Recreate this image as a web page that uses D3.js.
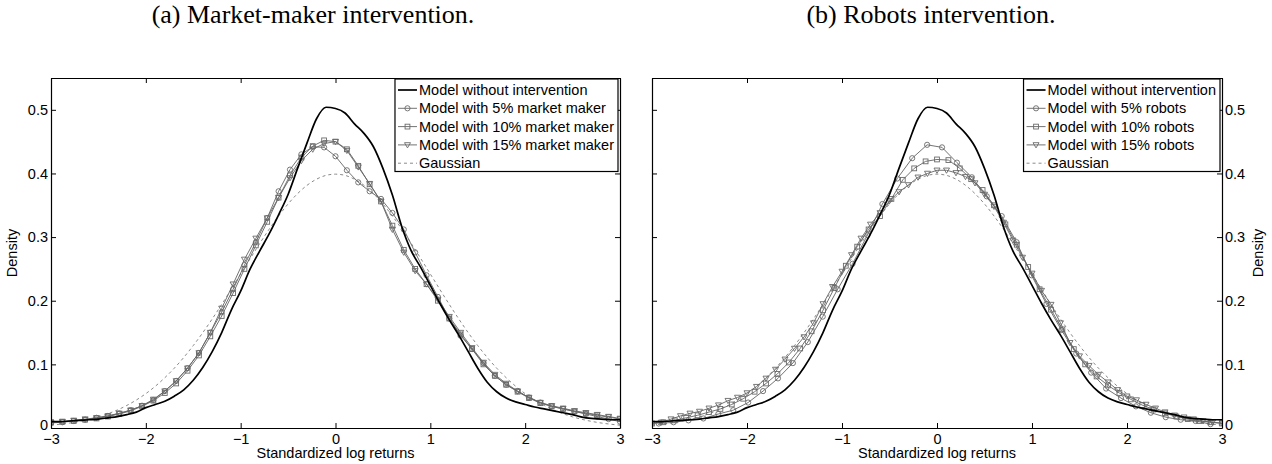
<!DOCTYPE html>
<html><head><meta charset="utf-8">
<script src="https://cdn.jsdelivr.net/npm/d3@7"></script>
<style>body{margin:0;background:#fff} svg{display:block}</style>
</head><body>
<svg id="c" width="1272" height="464"></svg>
<script>
// ---------- data ----------
const xTicks = [-3,-2,-1,0,1,2,3];
const xTickLabels = ["−3","−2","−1","0","1","2","3"];
const yTicks = [0,0.1,0.2,0.3,0.4,0.5];
const yTickLabels = ["0","0.1","0.2","0.3","0.4","0.5"];

// sampling grids (x positions of the density estimates)
const grid10 = d3.range(61).map(i => +(-3 + i*0.1).toFixed(3));
const grid12 = d3.range(51).map(i => +(-3 + i*0.12).toFixed(3));
const grid157 = d3.range(38).map(i => +(-2.93 + i*0.157).toFixed(3));

const noIntervention = [0.010,0.010,0.011,0.012,0.013,0.014,0.016,0.018,0.021,0.025,
  0.032,0.037,0.042,0.050,0.060,0.075,0.095,0.120,0.150,0.185,
  0.215,0.250,0.278,0.305,0.335,0.367,0.408,0.448,0.486,0.504,
  0.502,0.495,0.478,0.463,0.442,0.408,0.366,0.316,0.278,0.252,
  0.224,0.196,0.170,0.146,0.120,0.094,0.072,0.057,0.047,0.041,
  0.037,0.033,0.030,0.027,0.024,0.021,0.017,0.015,0.014,0.013,0.013];

const gaussian = [0.0044,0.0060,0.0079,0.0104,0.0136,0.0175,0.0224,0.0283,0.0355,0.0440,
  0.0540,0.0656,0.0790,0.0940,0.1109,0.1295,0.1497,0.1714,0.1942,0.2179,
  0.2420,0.2661,0.2897,0.3123,0.3332,0.3521,0.3683,0.3814,0.3910,0.3970,
  0.3989,0.3970,0.3910,0.3814,0.3683,0.3521,0.3332,0.3123,0.2897,0.2661,
  0.2420,0.2179,0.1942,0.1714,0.1497,0.1295,0.1109,0.0940,0.0790,0.0656,
  0.0540,0.0440,0.0355,0.0283,0.0224,0.0175,0.0136,0.0104,0.0079,0.0060,0.0044];

// (a) market maker, grid12
const mm5 = [0.008,0.009,0.011,0.013,0.016,0.019,0.023,0.028,0.035,0.044,
  0.058,0.074,0.094,0.118,0.150,0.182,0.218,0.256,0.292,0.330,
  0.372,0.406,0.430,0.442,0.441,0.427,0.405,0.386,0.372,0.360,
  0.338,0.312,0.276,0.240,0.206,0.172,0.145,0.124,0.102,0.082,
  0.068,0.058,0.048,0.040,0.034,0.030,0.026,0.022,0.018,0.014,0.010];
const mm10 = [0.009,0.010,0.011,0.013,0.015,0.018,0.022,0.027,0.034,0.043,
  0.055,0.070,0.090,0.114,0.144,0.176,0.212,0.250,0.287,0.324,
  0.362,0.397,0.425,0.443,0.452,0.450,0.438,0.412,0.383,0.356,
  0.318,0.280,0.250,0.226,0.200,0.172,0.147,0.124,0.100,0.082,
  0.068,0.057,0.047,0.039,0.034,0.030,0.026,0.023,0.020,0.017,0.014];
const mm15 = [0.009,0.010,0.012,0.014,0.016,0.019,0.023,0.028,0.035,0.045,
  0.058,0.074,0.094,0.118,0.150,0.188,0.226,0.265,0.298,0.330,
  0.362,0.393,0.420,0.438,0.447,0.450,0.436,0.410,0.384,0.356,
  0.312,0.276,0.247,0.226,0.202,0.175,0.150,0.126,0.103,0.084,
  0.070,0.058,0.048,0.040,0.035,0.031,0.027,0.024,0.021,0.018,0.015];

// (b) robots
const rb5 = [0.007,0.009,0.012,0.015,0.022,0.028,0.040,0.058,0.078,0.102,
  0.135,0.175,0.218,0.258,0.303,0.352,0.392,0.424,0.445,0.441,
  0.417,0.394,0.364,0.333,0.292,0.240,0.195,0.154,0.117,0.087,
  0.062,0.047,0.034,0.024,0.017,0.013,0.011,0.006];
const rb10 = [0.007,0.009,0.012,0.016,0.020,0.025,0.030,0.037,0.046,0.057,
  0.070,0.085,0.103,0.125,0.152,0.185,0.220,0.255,0.285,0.312,
  0.333,0.360,0.390,0.408,0.419,0.422,0.421,0.408,0.391,0.374,
  0.350,0.320,0.288,0.253,0.218,0.186,0.155,0.124,0.100,0.081,
  0.067,0.055,0.045,0.036,0.029,0.023,0.018,0.014,0.011,0.009,0.007];
const rb15 = [0.007,0.009,0.014,0.019,0.023,0.026,0.031,0.036,0.043,0.048,
  0.055,0.065,0.078,0.092,0.108,0.125,0.143,0.165,0.195,0.222,
  0.246,0.272,0.298,0.320,0.338,0.357,0.371,0.382,0.394,0.400,
  0.405,0.405,0.401,0.395,0.385,0.367,0.348,0.323,0.295,0.268,
  0.243,0.216,0.194,0.165,0.134,0.113,0.098,0.084,0.072,0.060,
  0.050,0.044,0.037,0.031,0.025,0.020,0.017,0.014,0.011,0.009,0.008];

const titles = ["(a) Market-maker intervention.", "(b) Robots intervention."];
const legendA = ["Model without intervention","Model with 5% market maker","Model with 10% market maker","Model with 15% market maker","Gaussian"];
const legendB = ["Model without intervention","Model with 5% robots","Model with 10% robots","Model with 15% robots","Gaussian"];
const xLabel = "Standardized log returns";
const yLabel = "Density";

// ---------- drawing ----------
const svg = d3.select("#c");
const SANS = "'Liberation Sans', Arial, Helvetica, sans-serif";
const SERIF = "'Liberation Serif', 'Times New Roman', serif";
const FS = 14.5;

const panels = [
  {x0:51, x1:620, side:"left", title:titles[0], titleX:313, legend:legendA,
   series:[{g:grid12,v:mm5,m:"circle"},{g:grid12,v:mm10,m:"square"},{g:grid12,v:mm15,m:"tri"}]},
  {x0:652, x1:1222, side:"right", title:titles[1], titleX:931, legend:legendB,
   series:[{g:grid157,v:rb5,m:"circle"},{g:grid12,v:rb10,m:"square"},{g:grid10,v:rb15,m:"tri"}]}
];
const yTop = 78, yBot = 428;

function marker(sel, type, color) {
  if (type === "circle") {
    sel.append("circle").attr("r", 2.6).attr("fill","none").attr("stroke",color).attr("stroke-width",0.9);
  } else if (type === "square") {
    sel.append("rect").attr("x",-2.4).attr("y",-2.4).attr("width",4.8).attr("height",4.8)
      .attr("fill","none").attr("stroke",color).attr("stroke-width",0.9);
  } else {
    sel.append("path").attr("d","M-3,-2.2L3,-2.2L0,3Z").attr("fill","none").attr("stroke",color).attr("stroke-width",0.9);
  }
}

const GRAY_LINE = "#636363", GRAY_MK = "#6a6a6a";

panels.forEach((p, pi) => {
  const x = d3.scaleLinear().domain([-3,3]).range([p.x0, p.x1]);
  const y = d3.scaleLinear().domain([0,0.55]).range([yBot, yTop]);
  const g = svg.append("g");
  const clipId = "clip"+pi;
  svg.append("clipPath").attr("id", clipId).append("rect")
    .attr("x", p.x0).attr("y", yTop).attr("width", p.x1-p.x0).attr("height", yBot-yTop);
  const plot = g.append("g").attr("clip-path", `url(#${clipId})`);

  const line = d3.line().x(d=>x(d[0])).y(d=>y(d[1]));
  const lineS = d3.line().x(d=>x(d[0])).y(d=>y(d[1])).curve(d3.curveMonotoneX);

  // gaussian
  plot.append("path").datum(grid10.map((gx,i)=>[gx,gaussian[i]])).attr("d", lineS)
    .attr("fill","none").attr("stroke","#8a8a8a").attr("stroke-width",1).attr("stroke-dasharray","3,3");

  // marker series
  p.series.forEach(s => {
    const pts = s.g.map((gx,i)=>[gx, s.v[i]]);
    plot.append("path").datum(pts).attr("d", line)
      .attr("fill","none").attr("stroke",GRAY_LINE).attr("stroke-width",0.9);
    plot.selectAll(null).data(pts).enter().append("g")
      .attr("transform", d=>`translate(${x(d[0])},${y(d[1])})`)
      .each(function(){ marker(d3.select(this), s.m, GRAY_MK); });
  });

  // no intervention
  plot.append("path").datum(grid10.map((gx,i)=>[gx,noIntervention[i]])).attr("d", lineS)
    .attr("fill","none").attr("stroke","#000").attr("stroke-width",1.7);

  // axes (box with inward ticks)
  const axB = d3.axisBottom(x).tickValues(xTicks).tickFormat((d,i)=>xTickLabels[i]).tickSizeInner(-5).tickSizeOuter(0).tickPadding(6);
  const axT = d3.axisTop(x).tickValues(xTicks).tickFormat("").tickSizeInner(-5).tickSizeOuter(0);
  const axL = d3.axisLeft(y).tickValues(yTicks).tickFormat((d,i)=>yTickLabels[i]).tickSizeInner(-5).tickSizeOuter(0).tickPadding(3);
  const axR = d3.axisRight(y).tickValues(yTicks).tickFormat((d,i)=>yTickLabels[i]).tickSizeInner(-5).tickSizeOuter(0).tickPadding(3);

  const gB = g.append("g").attr("transform",`translate(0,${yBot})`).call(axB);
  const gT = g.append("g").attr("transform",`translate(0,${yTop})`).call(axT);
  const gL = g.append("g").attr("transform",`translate(${p.x0},0)`).call(axL);
  const gR = g.append("g").attr("transform",`translate(${p.x1},0)`).call(axR);
  if (p.side === "left") gR.selectAll("text").remove(); else gL.selectAll("text").remove();
  [gB,gT,gL,gR].forEach(a => {
    a.selectAll("path.domain").attr("stroke","#000").attr("stroke-width",1.2);
    a.selectAll(".tick line").attr("stroke","#000").attr("stroke-width",1);
    a.selectAll("text").attr("font-family",SANS).attr("font-size",FS).attr("fill","#000");
  });
  // lift the "0" y-label slightly so it sits above the x-label, as in the original
  [gL,gR].forEach(a => a.selectAll(".tick").filter(d => d === 0).select("text").attr("dy","0.1em"));

  // axis labels
  g.append("text").attr("x",(p.x0+p.x1)/2).attr("y",458).attr("text-anchor","middle")
    .attr("font-family",SANS).attr("font-size",FS).text(xLabel);
  const yl = p.side==="left" ? 17 : 1263;
  g.append("text").attr("transform",`translate(${yl},${(yTop+yBot)/2}) rotate(-90)`).attr("text-anchor","middle")
    .attr("font-family",SANS).attr("font-size",FS).text(yLabel);

  // title
  svg.append("text").attr("x",p.titleX).attr("y",23).attr("text-anchor","middle")
    .attr("font-family",SERIF).attr("font-size",26).text(p.title);

  // legend
  const lg = g.append("g");
  const rowH = 18.3, lx1 = p.x1 - 2, ly0 = yTop + 1;
  const tmp = lg.append("g");
  const texts = p.legend.map((t,i) => tmp.append("text").attr("font-family",SANS).attr("font-size",FS).text(t));
  const maxW = d3.max(texts, t => t.node().getComputedTextLength());
  tmp.remove();
  const lw = 24 + maxW + 4, lh = rowH*5 + 1;
  const lx0 = lx1 - lw;
  lg.append("rect").attr("x",lx0).attr("y",ly0).attr("width",lw).attr("height",lh)
    .attr("fill","#fff").attr("stroke","#000").attr("stroke-width",1.2);
  const styles = [
    {stroke:"#000", w:1.7, dash:null, m:null},
    {stroke:GRAY_LINE, w:0.9, dash:null, m:"circle"},
    {stroke:GRAY_LINE, w:0.9, dash:null, m:"square"},
    {stroke:GRAY_LINE, w:0.9, dash:null, m:"tri"},
    {stroke:"#8a8a8a", w:1, dash:"3,3", m:null}
  ];
  p.legend.forEach((t,i) => {
    const cy = ly0 + 11 + i*rowH;
    lg.append("line").attr("x1",lx0+3).attr("x2",lx0+22).attr("y1",cy).attr("y2",cy)
      .attr("stroke",styles[i].stroke).attr("stroke-width",styles[i].w).attr("stroke-dasharray",styles[i].dash);
    if (styles[i].m) marker(lg.append("g").attr("transform",`translate(${lx0+12.5},${cy})`), styles[i].m, GRAY_MK);
    lg.append("text").attr("x",lx0+24).attr("y",cy+5).attr("font-family",SANS).attr("font-size",FS).text(t);
  });
});
</script>
</body></html>
